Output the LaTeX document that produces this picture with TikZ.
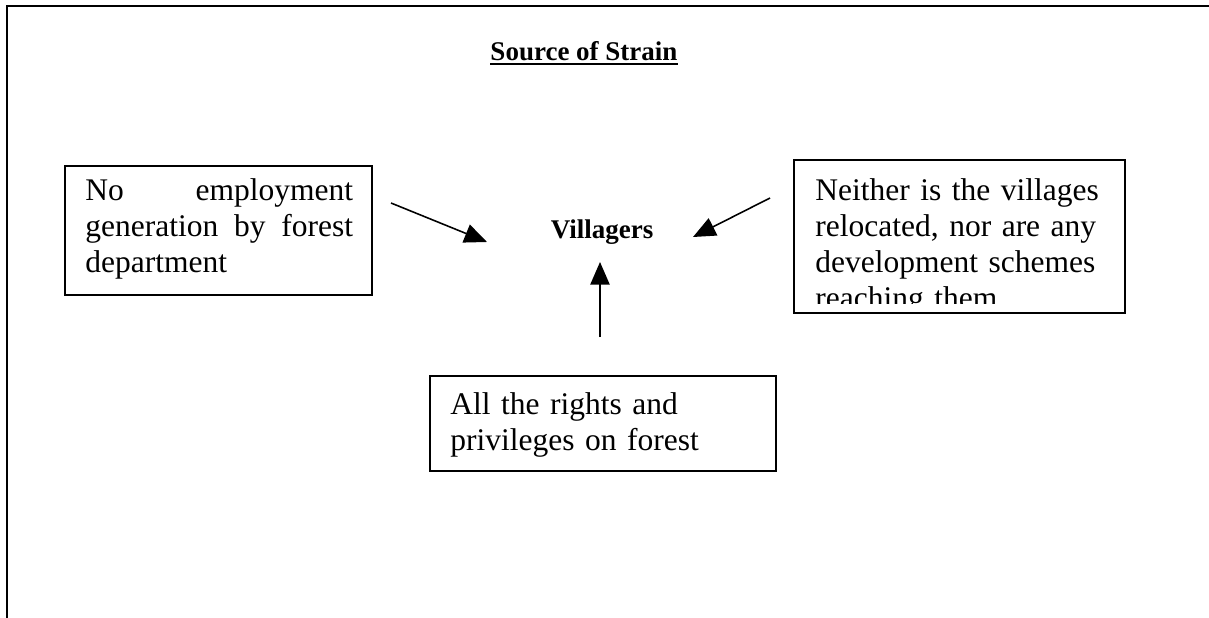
\documentclass[tikz,border=0pt]{standalone}
\usepackage{fontspec}
\setmainfont{Liberation Serif}
\usetikzlibrary{arrows.meta}
\newcommand{\nohyph}{\hyphenpenalty=10000\exhyphenpenalty=10000\relax}
\newcommand{\loosepar}{\tolerance=10000\relax}
\tikzset{
  frameline/.style={line width=0.9pt, line cap=rect},
  boxline/.style={line width=0.8pt},
  boxtext/.style={anchor=north west, inner sep=0pt, font=\fontsize{14}{16}\selectfont\nohyph},
  conn/.style={line width=0.7pt, -{Triangle[length=10pt,width=8.5pt]}},
  boldlabel/.style={anchor=base, inner sep=0pt, font=\fontsize{12}{14}\selectfont\bfseries}
}
\begin{document}
\begin{tikzpicture}[x=0.4444pt,y=-0.4444pt]
\useasboundingbox (0,0) rectangle (1209,618);
% outer frame (top and left only)
\draw[frameline] (7,618) -- (7,6) -- (1209,6);
% title
\node[boldlabel] (title) at (584,61) {Source of Strain};
\draw[line width=0.9pt] ([yshift=-1.4pt]title.base west) -- ([yshift=-1.4pt]title.base east);
% centre label
\node[boldlabel] (vill) at (602,239) {Villagers};
% left box
\draw[boxline] (65,166) rectangle (372,295);
\node[boxtext, text width=119pt, align=justify, font=\fontsize{14}{16}\selectfont\nohyph\loosepar] (lefttext) at (85,178.5)
  {No employment generation by forest department};
% right box (text clipped at the bottom)
\begin{scope}
\clip (794,160) rectangle (1125,303);
\node[boxtext, text width=131pt, align=left] (righttext) at (815,178.5)
  {Neither is the villages relocated, nor are any development schemes reaching them};
\end{scope}
\draw[boxline] (794,160) rectangle (1125,313);
% bottom box
\draw[boxline] (430,376) rectangle (776,471);
\node[boxtext, text width=140pt, align=left] (bottomtext) at (450,392.5)
  {All the rights and privileges on forest};
% connectors
\coordinate (ls) at (391,203);
\coordinate (le) at (487,242);
\coordinate (rs) at (770,198);
\coordinate (re) at (693,237);
\coordinate (bs) at (600,337);
\coordinate (be) at (600,262);
\draw[conn] (ls) -- (le);
\draw[conn] (rs) -- (re);
\draw[conn] (bs) -- (be);
\end{tikzpicture}
\end{document}
